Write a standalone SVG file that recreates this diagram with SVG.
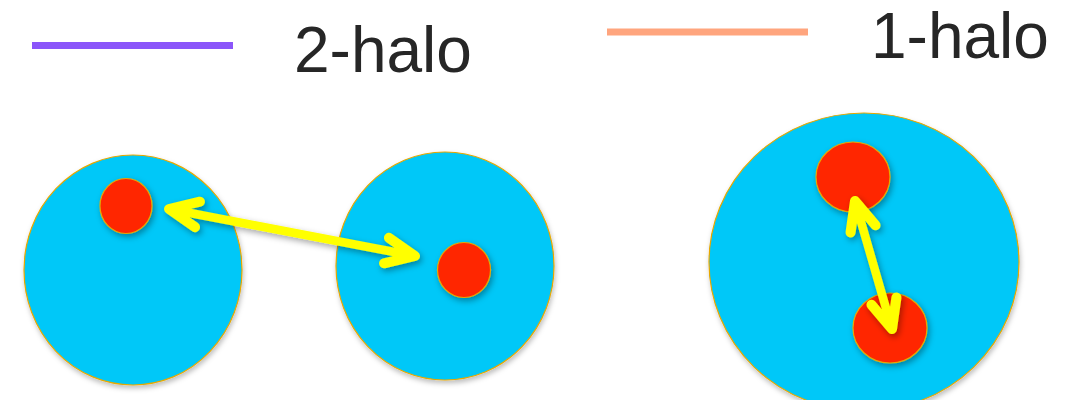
<svg xmlns="http://www.w3.org/2000/svg" width="1069" height="400" viewBox="0 0 1069 400">
<style>
.halo{fill:#00C8F8;stroke:#E8A800;stroke-width:1.2}
.sub{fill:#FF2600;stroke:#E8A800;stroke-width:1.2}
.lbl{font-family:"Liberation Sans",Arial,sans-serif;font-size:64px;fill:#262626}
.conn{fill:none;stroke:#FFFF00;stroke-width:8.5}
</style>
<defs>
<filter id="sh" x="-30%" y="-30%" width="160%" height="160%">
<feDropShadow dx="2" dy="3" stdDeviation="3" flood-color="#000" flood-opacity="0.35"/>
</filter>
<filter id="shb" x="-10%" y="-10%" width="120%" height="120%">
<feDropShadow dx="1" dy="3" stdDeviation="2.5" flood-color="#000" flood-opacity="0.25"/>
</filter>
<marker id="chev" markerUnits="userSpaceOnUse" viewBox="-40 -22 50 44" refX="0" refY="0" markerWidth="50" markerHeight="44" orient="auto-start-reverse">
<path d="M -29 -13 L 0 0 L -29 13" fill="none" stroke="#FFFF00" stroke-width="10" stroke-linecap="round" stroke-linejoin="round"/>
<path d="M -2 0 L -22 -8 L -22 8 Z" fill="#FFFF00"/>
</marker>
</defs>
<rect width="1069" height="400" fill="#fff"/>
<g id="legend-2halo">
<line x1="32" y1="45.5" x2="233" y2="45.5" stroke="#8B55FA" stroke-width="7"/>
<text class="lbl" x="294" y="72">2-halo</text>
</g>
<g id="legend-1halo">
<line x1="607" y1="32" x2="808" y2="32" stroke="#FFA57E" stroke-width="7"/>
<text class="lbl" x="871" y="58">1-halo</text>
</g>
<g id="halo-a" filter="url(#shb)">
<ellipse class="halo" cx="133" cy="270" rx="109" ry="115"/>
</g>
<g id="halo-b" filter="url(#shb)">
<ellipse class="halo" cx="445" cy="266" rx="109" ry="114"/>
</g>
<g id="halo-c" filter="url(#shb)">
<ellipse class="halo" cx="864" cy="262" rx="155" ry="149"/>
</g>
<g id="sub-a" filter="url(#sh)">
<ellipse class="sub" cx="126" cy="206" rx="26" ry="27.5"/>
</g>
<g id="sub-b" filter="url(#sh)">
<ellipse class="sub" cx="464" cy="270" rx="26.5" ry="27.5"/>
</g>
<g id="sub-c1" filter="url(#sh)">
<ellipse class="sub" cx="853" cy="177" rx="37" ry="35"/>
</g>
<g id="sub-c2" filter="url(#sh)">
<ellipse class="sub" cx="890" cy="328" rx="37" ry="35"/>
</g>
<g id="connectors" filter="url(#sh)">
<path class="conn" d="M 169 209 L 415 256" marker-start="url(#chev)" marker-end="url(#chev)"/>
<path class="conn" d="M 855 201 L 892 329" marker-start="url(#chev)" marker-end="url(#chev)"/>
</g>
</svg>
